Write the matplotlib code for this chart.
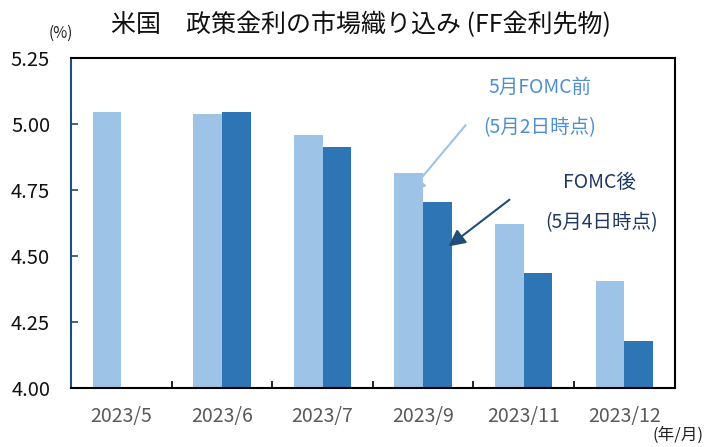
import matplotlib.pyplot as plt
import numpy as np

plt.rcParams['font.family'] = ['Noto Sans CJK JP', 'DejaVu Sans']

months = ["2023/5", "2023/6", "2023/7", "2023/9", "2023/11", "2023/12"]
before = [5.045, 5.038, 4.96, 4.813, 4.621, 4.405]   # 5月FOMC前 (5月2日時点)
after = [np.nan, 5.045, 4.914, 4.706, 4.434, 4.179]  # FOMC後 (5月4日時点)

light = "#9dc3e6"
dark = "#2e75b6"

fig = plt.figure(figsize=(7.17, 4.47), dpi=100)
ax = fig.add_axes([0.099, 0.132, 0.842, 0.738])

x = np.arange(len(months))
w = 0.285
ax.bar(x - w / 2, before, w, color=light)
ax.bar(x + w / 2, after, w, color=dark)

ax.set_xlim(-0.5, len(months) - 0.5)
ax.set_ylim(4.0, 5.25)
yt = np.arange(4.0, 5.26, 0.25)
ax.set_yticks(yt)
ax.set_yticklabels([f"{v:.2f}" for v in yt], fontsize=14.5, color="#111111")
ax.tick_params(axis="y", direction="in", length=5, color="#1f4e79", width=1.2, pad=15)

ax.set_xticks(x)
ax.set_xticklabels(months, fontsize=14, color="#595959")
ax.tick_params(axis="x", which="major", length=0, pad=13)
ax.set_xticks(np.arange(0.5, len(months) - 0.5), minor=True)
ax.tick_params(axis="x", which="minor", direction="in", length=5, width=1.2, color="black")

for s in ["top", "right", "bottom"]:
    ax.spines[s].set_color("black")
    ax.spines[s].set_linewidth(1.5)
ax.spines["left"].set_color("#1f4e79")
ax.spines["left"].set_linewidth(1.5)

fig.text(0.504, 0.944, "米国\u3000政策金利の市場織り込み (FF金利先物)", ha="center", va="center",
         fontsize=18, color="#111111")
fig.text(0.085, 0.926, "(%)", ha="center", va="center", fontsize=11, color="#222222")
fig.text(0.945, 0.006, "(年/月)", ha="center", va="bottom", fontsize=12, color="#222222")

# annotations
ax.text(4.16, 5.14, "5月FOMC前", ha="center", va="center", fontsize=14, color="#4f8fd0")
ax.text(4.16, 4.985, "(5月2日時点)", ha="center", va="center", fontsize=14, color="#4f8fd0")
ax.annotate("", xy=(2.84, 4.731), xytext=(3.44, 5.004),
            arrowprops=dict(arrowstyle="-|>,head_length=1.0,head_width=0.55", color=light, lw=1.5))

ax.text(4.75, 4.78, "FOMC後", ha="center", va="center", fontsize=14, color="#203864")
ax.text(4.77, 4.625, "(5月4日時点)", ha="center", va="center", fontsize=14, color="#203864")
ax.annotate("", xy=(3.23, 4.53), xytext=(3.88, 4.72),
            arrowprops=dict(arrowstyle="-|>,head_length=1.0,head_width=0.5", color="#1f4e79", lw=1.5))

fig.savefig("out.png", dpi=100)
